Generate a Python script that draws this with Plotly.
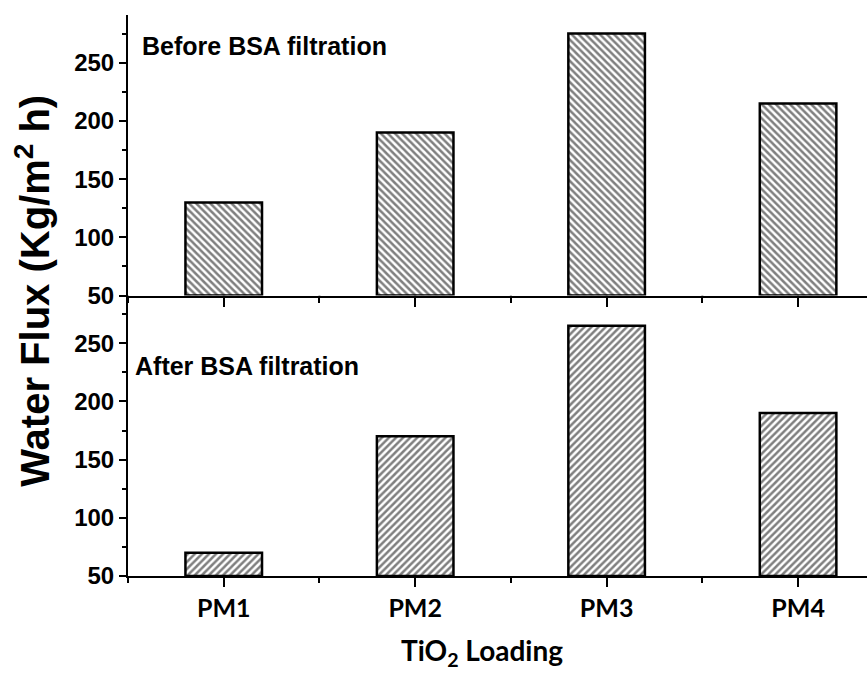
import plotly.graph_objects as go

categories = ["PM1", "PM2", "PM3", "PM4"]
cat_pos = [1, 2, 3, 4]
before_bsa = [130, 190, 275, 215]
after_bsa = [70, 170, 265, 190]
y_ticks = [50, 100, 150, 200, 250]
X_RANGE = [0.5, 4.36]
Y_RANGE = [50, 291]
MINOR_X = [0.5, 1.5, 2.5, 3.5]

fig = go.Figure()
fig.add_trace(go.Bar(x=cat_pos, y=[v - 50 for v in before_bsa], base=50, width=0.4, xaxis="x", yaxis="y",
    marker=dict(color="white", line=dict(color="black", width=2.5),
                pattern=dict(shape="\\", fgcolor="black", bgcolor="white", size=5, solidity=0.5)),
    showlegend=False))
fig.add_trace(go.Bar(x=cat_pos, y=[v - 50 for v in after_bsa], base=50, width=0.4, xaxis="x2", yaxis="y2",
    marker=dict(color="white", line=dict(color="black", width=2.5),
                pattern=dict(shape="/", fgcolor="black", bgcolor="white", size=5, solidity=0.5)),
    showlegend=False))

# x tick marks hanging below each panel's bottom axis line (drawn as one-sided error bars)
px_per_unit = (673 - 15 - 97) / 2 / (Y_RANGE[1] - Y_RANGE[0])
tick_x = cat_pos + MINOR_X
tick_len = [9 / px_per_unit] * len(cat_pos) + [5 / px_per_unit] * len(MINOR_X)
for xa, ya in (("x", "y"), ("x2", "y2")):
    fig.add_trace(go.Scatter(x=tick_x, y=[Y_RANGE[0]] * len(tick_x), xaxis=xa, yaxis=ya,
                             mode="markers", marker=dict(size=1, color="rgba(0,0,0,0)"),
                             error_y=dict(type="data", symmetric=False, array=[0] * len(tick_x),
                                          arrayminus=tick_len, color="black", thickness=2, width=0),
                             cliponaxis=False, showlegend=False, hoverinfo="skip"))

xcommon = dict(range=X_RANGE, tickmode="array", tickvals=cat_pos, ticktext=categories,
               ticks="outside", ticklen=9, tickwidth=2, tickcolor="black",
               showline=True, linecolor="black", linewidth=2, showgrid=False, zeroline=False,
               minor=dict(tick0=0.5, dtick=0.5, ticks="outside", ticklen=5, tickwidth=2,
                          tickcolor="black", showgrid=False))
ycommon = dict(range=Y_RANGE, tickvals=y_ticks, ticks="outside", ticklen=7, tickwidth=2,
               showline=True, linecolor="black", linewidth=2, showgrid=False, zeroline=False,
               tickfont=dict(family="Liberation Sans, Arial", size=24, color="black", weight="bold"),
               tickcolor="black",
               minor=dict(tickvals=[75, 125, 175, 225, 275], ticks="outside", ticklen=4,
                          tickwidth=2, tickcolor="black"))

fig.update_layout(
    xaxis=dict(xcommon, anchor="y", showticklabels=False),
    yaxis=dict(ycommon, anchor="x", domain=[0.5, 1]),
    xaxis2=dict(xcommon, anchor="y2", showticklabels=True,
                tickfont=dict(family="Lato, Open Sans", size=25, color="black", weight="bold")),
    yaxis2=dict(ycommon, anchor="x2", domain=[0, 0.5]),
)

fig.add_annotation(text="<b>Before BSA filtration</b>", xref="paper", yref="paper", x=0.016, y=0.945,
                   xanchor="left", yanchor="middle", showarrow=False,
                   font=dict(family="Liberation Sans, Arial", size=25, color="black"))
fig.add_annotation(text="<b>After BSA filtration</b>", xref="paper", yref="paper", x=0.007, y=0.374,
                   xanchor="left", yanchor="middle", showarrow=False,
                   font=dict(family="Liberation Sans, Arial", size=25, color="black"))
fig.add_annotation(text="<b>Water Flux (Kg/m<sup>2</sup> h)</b>", xref="paper", yref="paper",
                   x=-0.129, y=0.508, xanchor="center", yanchor="middle", textangle=-90, showarrow=False,
                   font=dict(family="Liberation Sans, Arial", size=40, color="black"))
fig.add_annotation(text="TiO<sub>2</sub> Loading", xref="paper", yref="paper",
                   x=0.479, y=-0.135, xanchor="center", yanchor="middle", showarrow=False,
                   font=dict(family="Lato, Open Sans", size=28, color="black", weight="bold"))

fig.update_layout(width=867, height=673, margin=dict(l=128, r=0, t=15, b=97),
                  plot_bgcolor="rgba(0,0,0,0)", paper_bgcolor="white", bargap=0.6)

fig.write_html("out.html")
